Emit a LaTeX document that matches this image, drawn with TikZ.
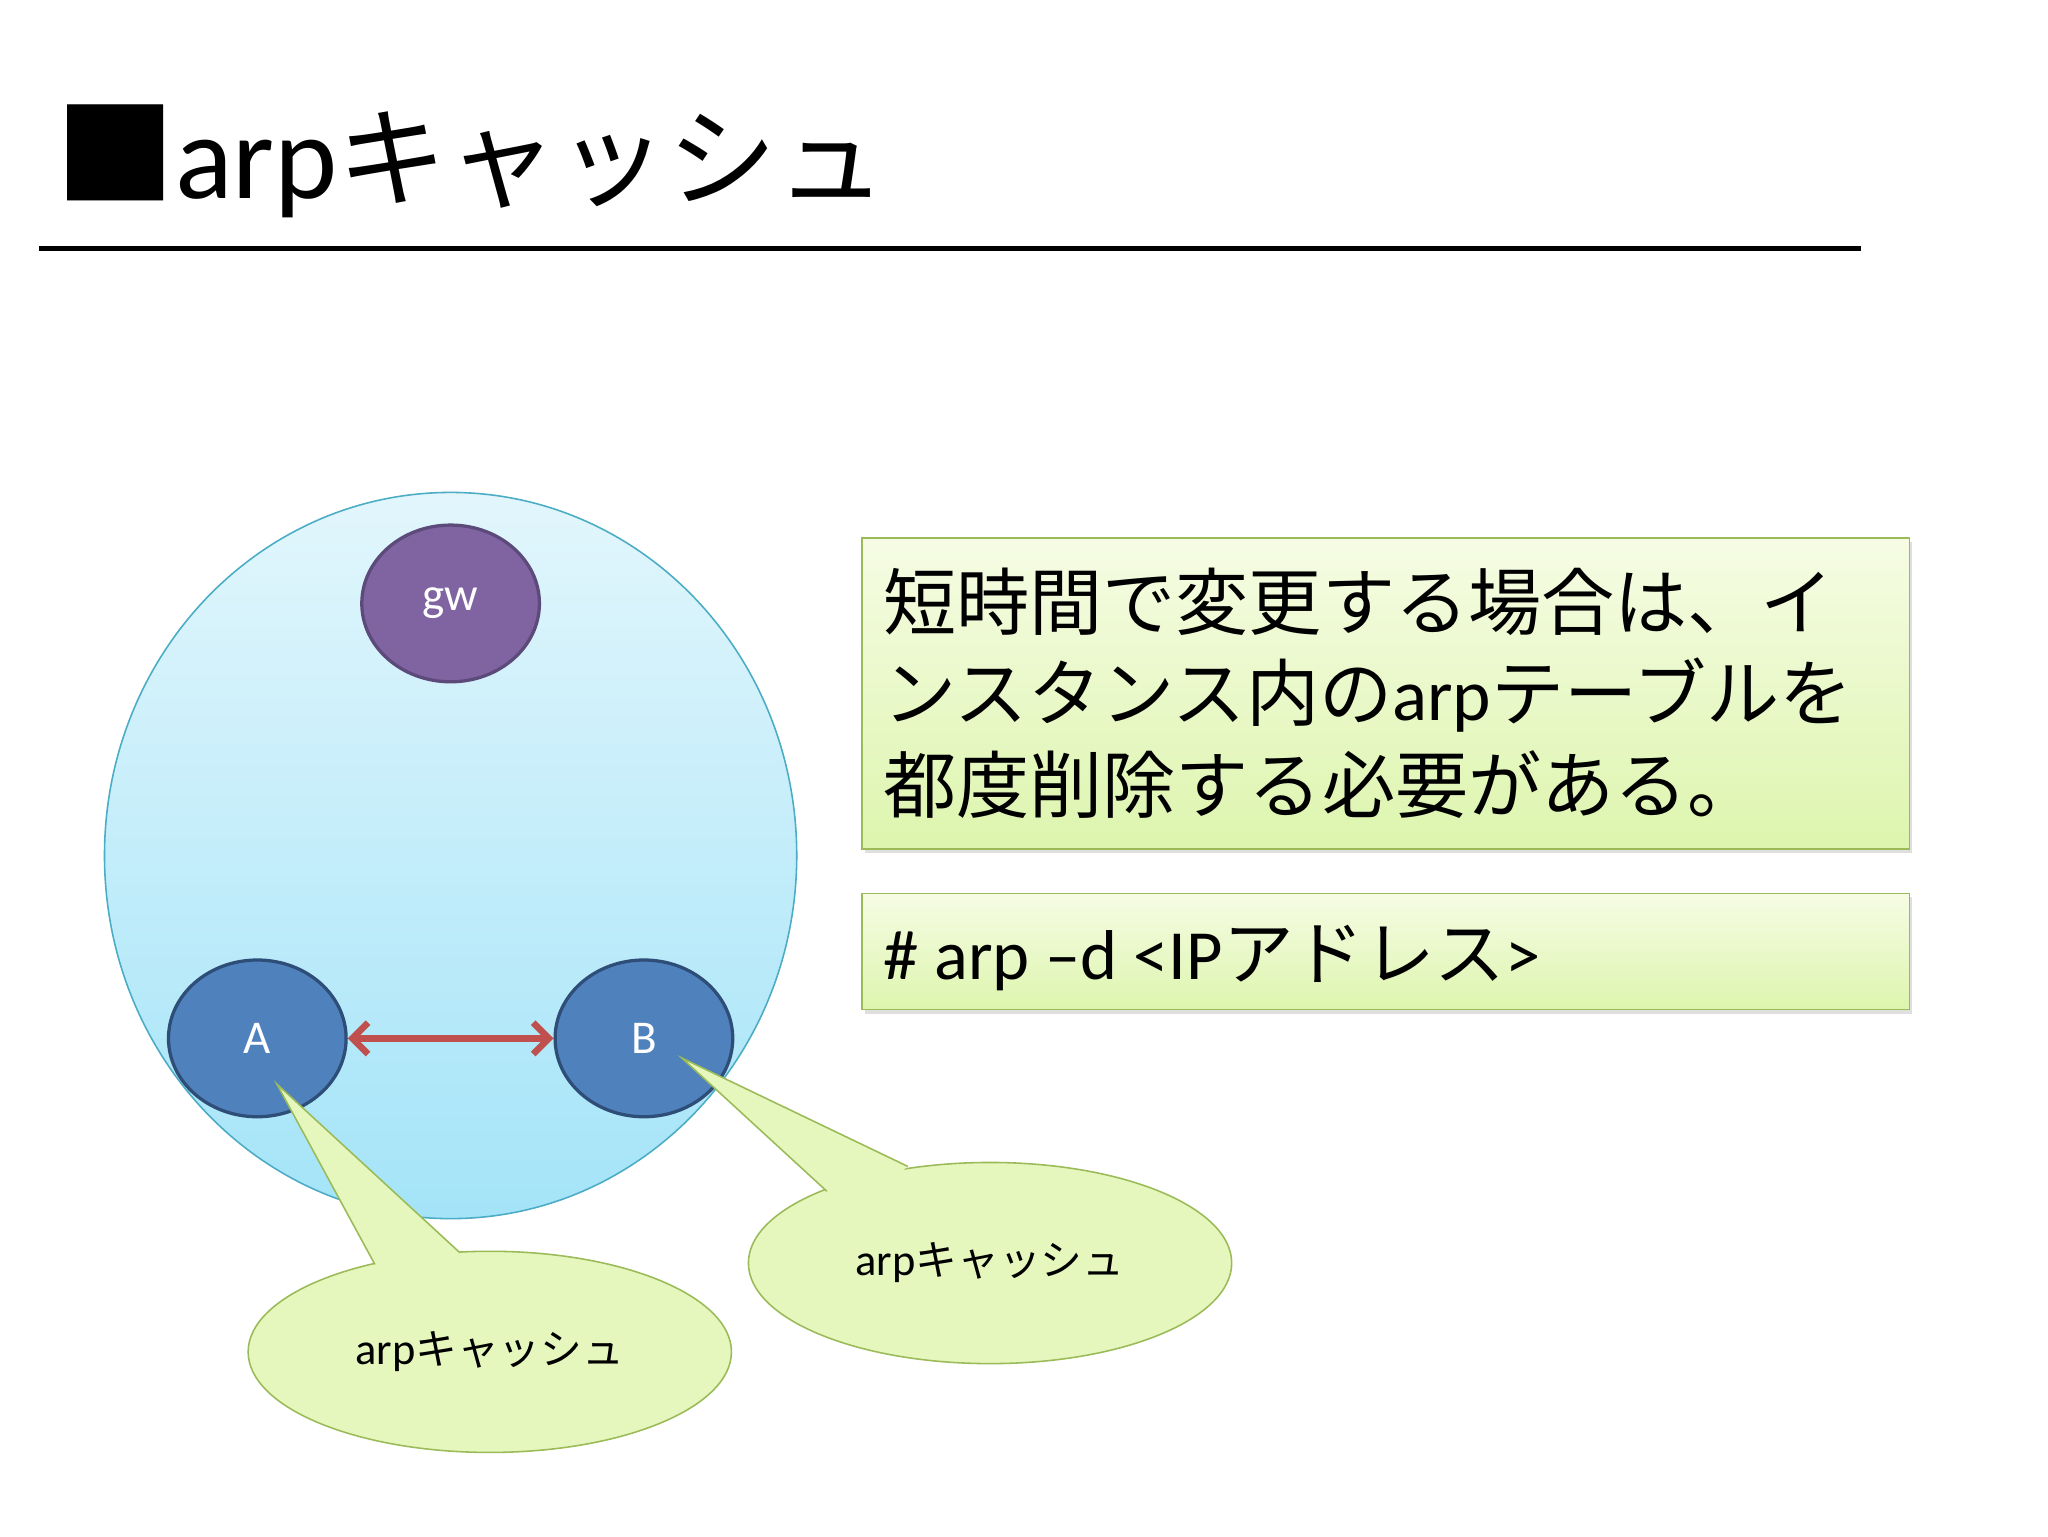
\documentclass[tikz,border=0pt]{standalone}
\usepackage{fontspec}
\setmainfont{Carlito}
\newfontfamily\jp{Noto Sans CJK JP}
\usetikzlibrary{shapes.geometric,arrows.meta,shadows,calc}
\definecolor{skyB}{HTML}{4BACC6}
\definecolor{skyT}{HTML}{E2F6FC}
\definecolor{skyL}{HTML}{A4E4F8}
\definecolor{gwF}{HTML}{8064A2}
\definecolor{gwD}{HTML}{5C4A7A}
\definecolor{nF}{HTML}{4F81BD}
\definecolor{nD}{HTML}{2E4E78}
\definecolor{arr}{HTML}{C0504D}
\definecolor{grB}{HTML}{9BBB59}
\definecolor{calF}{HTML}{E6F7BE}
\definecolor{boxT}{HTML}{F6FCE4}
\definecolor{boxL}{HTML}{DDF5AE}
\tikzset{
  host/.style={ellipse,minimum width=136pt,minimum height=120pt,line width=2.5pt,text=white,font=\fontsize{36}{40}\selectfont},
  gbox/.style={draw=grB,line width=1.2pt,top color=boxT,bottom color=boxL,drop shadow={opacity=0.25,shadow xshift=2pt,shadow yshift=-3pt}},
  callout/.style={ellipse,minimum width=370pt,minimum height=154pt,draw=grB,fill=calF,line width=1.2pt,font=\fontsize{34}{40}\selectfont}
}
\begin{document}
\begin{tikzpicture}[x=1pt,y=-1pt]
\useasboundingbox[fill=white] (0,0) rectangle (1568,1176);
% title
\node[anchor=base west,inner sep=0,font=\fontsize{92}{100}\selectfont] (title) at (42,152) {{\jp ■}arp{\jp\fontsize{84}{90}\selectfont キャッシュ}};
\coordinate (l1) at (30,190); \coordinate (l2) at (1425,190);
\draw[line width=4pt] (l1) -- (l2);
% big circle
\node[ellipse,minimum width=530pt,minimum height=556pt,draw=skyB,line width=1.2pt,top color=skyT,bottom color=skyL] (net) at (345,655) {};
\node[host,fill=gwF,draw=gwD] (gw) at (345,462) {gw};
\node[host,fill=nF,draw=nD] (A) at (197,795) {A};
\node[host,fill=nF,draw=nD] (B) at (493,795) {B};
\draw[arr,line width=5pt,{Straight Barb[length=12pt,width=24pt]}-{Straight Barb[length=12pt,width=24pt]}] (A) -- (B);
% callouts
\node[callout] (c1) at (375,1035) {arp{\jp\fontsize{32}{40}\selectfont キャッシュ}};
\coordinate (t1) at (212,830); \coordinate (p1) at (287,968); \coordinate (q1) at (352,959);
\fill[calF] (p1) -- (t1) -- (q1) -- ($(p1)!0.5!(q1)+(0,12)$) -- cycle;
\draw[grB,line width=1.2pt] (p1) -- (t1) -- (q1);
\node[callout] (c2) at (758,967) {arp{\jp\fontsize{32}{40}\selectfont キャッシュ}};
\coordinate (t2) at (522,810); \coordinate (p2) at (633,912); \coordinate (q2) at (695,893);
\fill[calF] (p2) -- (t2) -- (q2) -- ($(p2)!0.5!(q2)+(4,14)$) -- cycle;
\draw[grB,line width=1.2pt] (p2) -- (t2) -- (q2);
% boxes
\path[gbox] (660,412) rectangle (1462,650);
\node[anchor=base west,inner sep=0,align=left,font=\jp\fontsize{56}{70}\selectfont] (txt1) at (676,622) {短時間で変更する場合は、イ\\ンスタンス内の{\rmfamily arp}テーブルを\\都度削除する必要がある。};
\path[gbox] (660,684) rectangle (1462,773);
\node[anchor=base west,inner sep=0,font=\fontsize{54}{60}\selectfont] (txt2) at (676,750) {\# arp –d <IP{\jp アドレス}>};
\end{tikzpicture}
\end{document}
